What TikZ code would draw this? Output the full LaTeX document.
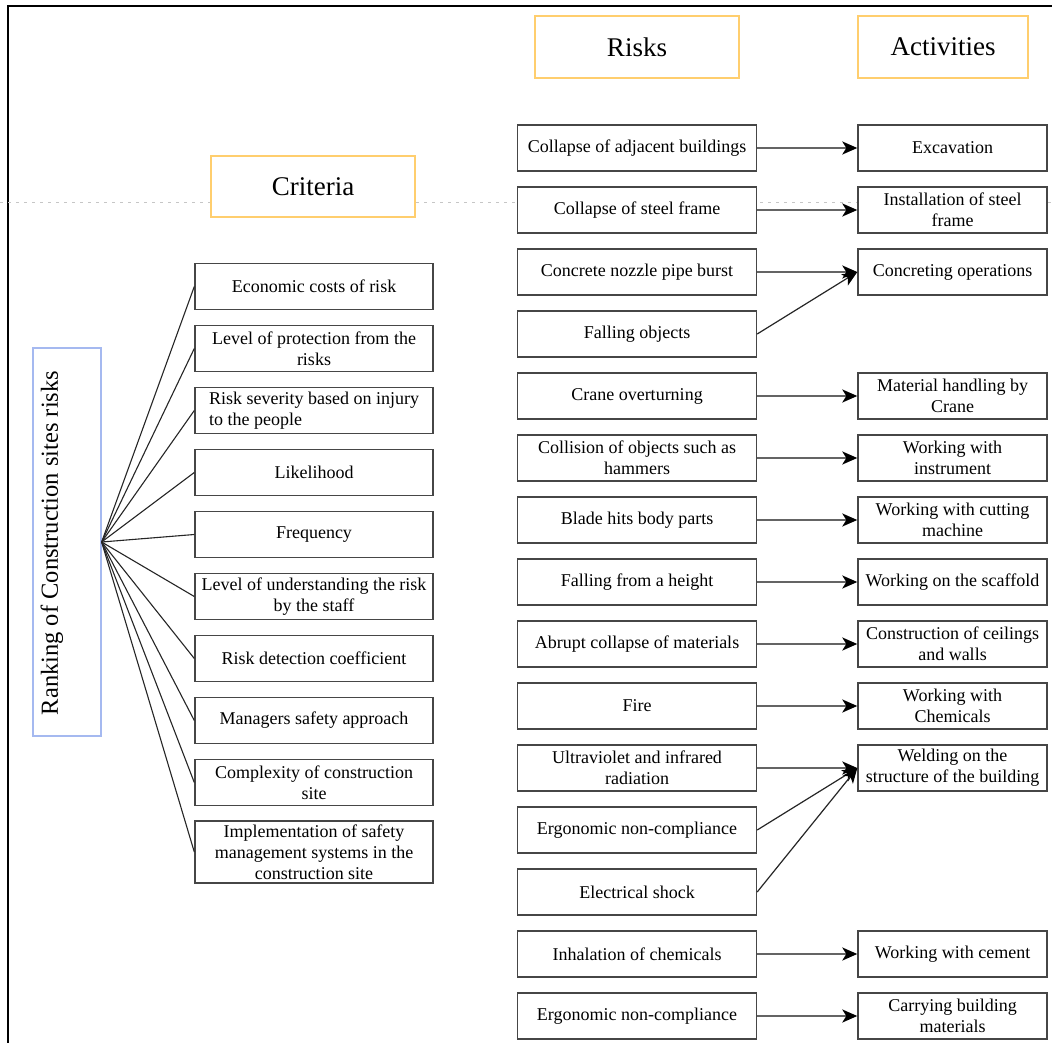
\documentclass[tikz,border=0pt]{standalone}
\usepackage{fontspec}
\setmainfont{Liberation Serif}
\usetikzlibrary{arrows.meta}
\definecolor{ttlcol}{RGB}{255,206,110}
\definecolor{rkcol}{RGB}{165,185,240}
\definecolor{boxcol}{RGB}{70,70,70}
\definecolor{arrcol}{RGB}{100,100,100}
\tikzset{
  basebox/.style={draw=boxcol, line width=1.4pt, fill=white, align=center, inner sep=1pt,
    font=\fontsize{18}{21}\selectfont},
  riskbox/.style={basebox, minimum width=239pt, minimum height=46pt},
  actbox/.style={basebox, minimum width=189pt, minimum height=46pt},
  critbox/.style={basebox, minimum width=238pt, minimum height=46pt},
  titlebox/.style={draw=ttlcol, line width=1.6pt, fill=white, minimum height=62pt,
    font=\fontsize{27}{31}\selectfont},
  harrow/.style={draw=arrcol, line width=2pt, -{Stealth[length=15pt,width=13pt,inset=4pt,color=black]}},
  darrow/.style={draw=black!85, line width=1.2pt, -{Stealth[length=15pt,width=13pt,inset=4pt,color=black]}},
  link/.style={draw=black!85, line width=1.1pt}
}
\begin{document}
\begin{tikzpicture}[x=1pt,y=-1pt]
\useasboundingbox (0,0) rectangle (1052,1043);
\fill[white] (0,0) rectangle (1052,1043);
% frame and guide line
\draw[line width=1.3pt] (8,1043) -- (8,6) -- (1052,6);
\draw[gray!45, line width=0.8pt, dash pattern=on 3pt off 5pt] (0,202) -- (1052,202);

% titles
\node[titlebox, minimum width=204pt] (trisk) at (637,47) {Risks};
\node[titlebox, minimum width=170pt] (tact) at (943,47) {Activities};
\node[titlebox, minimum width=204pt, minimum height=61pt] (tcrit) at (313,186.5) {Criteria};

% ranking box
\node[draw=rkcol, line width=1.3pt, fill=white, minimum width=68pt, minimum height=388pt] (rank) at (67,542) {};
\node[rotate=90, font=\fontsize{24.5}{28}\selectfont, inner sep=0pt] (ranktxt) at (52,543) {Ranking of Construction sites risks};

% criteria
\node[critbox] (c1) at (314,286.5) {Economic costs of risk};
\node[critbox] (c2) at (314,348.5) {Level of protection from the\\risks};
\node[critbox, align=left] (c3) at (314,410.5) {Risk severity based on injury\\to the people};
\node[critbox] (c4) at (314,472.5) {Likelihood};
\node[critbox] (c5) at (314,534.5) {Frequency};
\node[critbox] (c6) at (314,596.5) {Level of understanding the risk\\by the staff};
\node[critbox] (c7) at (314,658.5) {Risk detection coefficient};
\node[critbox] (c8) at (314,720.5) {Managers safety approach};
\node[critbox] (c9) at (314,782.5) {Complexity of construction\\site};
\node[critbox, minimum height=62pt] (c10) at (314,852) {Implementation of safety\\management systems in the\\construction site};

\foreach \i in {1,...,10} {\draw[link] (rank.east) -- (c\i.west);}

% risks
\node[riskbox] (r1) at (637,148) {Collapse of adjacent buildings};
\node[riskbox] (r2) at (637,210) {Collapse of steel frame};
\node[riskbox] (r3) at (637,272) {Concrete nozzle pipe burst};
\node[riskbox] (r4) at (637,334) {Falling objects};
\node[riskbox] (r5) at (637,396) {Crane overturning};
\node[riskbox] (r6) at (637,458) {Collision of objects such as\\hammers};
\node[riskbox] (r7) at (637,520) {Blade hits body parts};
\node[riskbox] (r8) at (637,582) {Falling from a height};
\node[riskbox] (r9) at (637,644) {Abrupt collapse of materials};
\node[riskbox] (r10) at (637,706) {Fire};
\node[riskbox] (r11) at (637,768) {Ultraviolet and infrared\\radiation};
\node[riskbox] (r12) at (637,830) {Ergonomic non-compliance};
\node[riskbox] (r13) at (637,892) {Electrical shock};
\node[riskbox] (r14) at (637,954) {Inhalation of chemicals};
\node[riskbox] (r15) at (637,1016) {Ergonomic non-compliance};

% activities
\node[actbox] (a1) at (952.5,148) {Excavation};
\node[actbox] (a2) at (952.5,210) {Installation of steel\\frame};
\node[actbox] (a3) at (952.5,272) {Concreting operations};
\node[actbox] (a5) at (952.5,396) {Material handling by\\Crane};
\node[actbox] (a6) at (952.5,458) {Working with\\instrument};
\node[actbox] (a7) at (952.5,520) {Working with cutting\\machine};
\node[actbox] (a8) at (952.5,582) {Working on the scaffold};
\node[actbox] (a9) at (952.5,644) {Construction of ceilings\\and walls};
\node[actbox] (a10) at (952.5,706) {Working with\\Chemicals};
\node[actbox] (a11) at (952.5,768) {Welding on the\\structure of the building};
\node[actbox] (a14) at (952.5,954) {Working with cement};
\node[actbox] (a15) at (952.5,1016) {Carrying building\\materials};

% arrows
\foreach \i in {1,2,3,5,6,7,8,9,10,11,14,15} {\draw[harrow] (r\i.east) -- (a\i.west);}
\draw[darrow] (r4.east) -- (a3.west);
\draw[darrow] (r12.east) -- (a11.west);
\draw[darrow] (r13.east) -- (a11.west);
\end{tikzpicture}
\end{document}
